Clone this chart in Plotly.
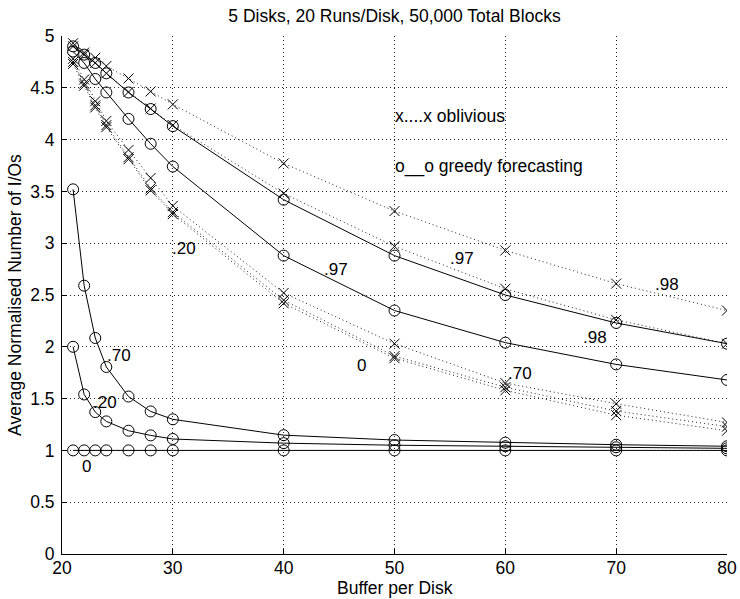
import plotly.graph_objects as go

# ---- data ----
buffer_per_disk = [21, 22, 23, 24, 26, 28, 30, 40, 50, 60, 70, 80]

# greedy forecasting (solid, circles)
greedy_0 = [1.0, 1.0, 1.0, 1.0, 1.0, 1.0, 1.0, 1.0, 1.0, 1.0, 1.0, 1.0]
greedy_20 = [2.00, 1.54, 1.37, 1.28, 1.19, 1.145, 1.11, 1.07, 1.05, 1.04, 1.03, 1.02]
greedy_70 = [3.52, 2.59, 2.085, 1.805, 1.52, 1.376, 1.30, 1.147, 1.10, 1.075, 1.055, 1.04]
greedy_97 = [4.85, 4.74, 4.585, 4.455, 4.20, 3.96, 3.74, 2.88, 2.35, 2.04, 1.83, 1.68]
greedy_98 = [4.90, 4.82, 4.74, 4.64, 4.455, 4.295, 4.13, 3.42, 2.88, 2.50, 2.23, 2.03]

# oblivious (dotted, x markers)
oblivious_0 = [4.78, 4.58, 4.37, 4.18, 3.90, 3.63, 3.36, 2.52, 2.03, 1.65, 1.45, 1.27]
oblivious_20 = [4.75, 4.54, 4.33, 4.14, 3.83, 3.53, 3.30, 2.45, 1.91, 1.61, 1.38, 1.23]
oblivious_70 = [4.73, 4.52, 4.31, 4.12, 3.81, 3.51, 3.28, 2.42, 1.89, 1.58, 1.34, 1.19]
oblivious_97 = [4.90, 4.82, 4.74, 4.64, 4.46, 4.30, 4.14, 3.48, 2.97, 2.56, 2.26, 2.03]
oblivious_98 = [4.93, 4.84, 4.79, 4.71, 4.59, 4.465, 4.34, 3.77, 3.31, 2.93, 2.61, 2.35]

x_ticks = [20, 30, 40, 50, 60, 70, 80]
y_ticks = [0, 0.5, 1, 1.5, 2, 2.5, 3, 3.5, 4, 4.5, 5]
y_tick_labels = ["0", "0.5", "1", "1.5", "2", "2.5", "3", "3.5", "4", "4.5", "5"]

curve_labels = [".20", ".97", ".97", ".98", ".98", "0", ".70", ".70", ".20", "0"]

title_text = "5 Disks, 20 Runs/Disk, 50,000 Total Blocks"
x_title = "Buffer per Disk"
y_title = "Average Normalised Number of I/Os"

# ---- styling / layout ----
FONT = "Liberation Sans, Arial, Helvetica, sans-serif"
DOT = "1px,3px"

fig = go.Figure()

for ys in [oblivious_0, oblivious_20, oblivious_70, oblivious_97, oblivious_98]:
    fig.add_trace(go.Scatter(
        x=buffer_per_disk, y=ys, mode="lines+markers",
        line=dict(color="#222222", width=1, dash=DOT),
        marker=dict(symbol="x-thin-open", size=10, color="black",
                    line=dict(color="black", width=1)),
        showlegend=False, hoverinfo="x+y"))

for ys in [greedy_0, greedy_20, greedy_70, greedy_97, greedy_98]:
    fig.add_trace(go.Scatter(
        x=buffer_per_disk, y=ys, mode="lines+markers",
        line=dict(color="black", width=1),
        marker=dict(symbol="circle-open", size=11, color="black",
                    line=dict(color="black", width=1)),
        showlegend=False, hoverinfo="x+y"))

label_pos = [(31.0, 2.95), (44.73, 2.745), (56.06, 2.855), (74.56, 2.60),
             (68.1, 2.09), (47.0, 1.82), (61.3, 1.74), (25.14, 1.915),
             (23.9, 1.465), (22.17, 0.84)]

annotations = []
for txt, (ax_, ay_) in zip(curve_labels, label_pos):
    annotations.append(dict(x=ax_, y=ay_, xref="x", yref="y", text=txt,
                            showarrow=False, xanchor="center", yanchor="middle",
                            font=dict(family=FONT, size=17, color="black")))

annotations.append(dict(x=49.9, y=4.23, xref="x", yref="y", text="x....x oblivious",
                        showarrow=False, xanchor="left", yanchor="middle",
                        font=dict(family=FONT, size=17.5, color="black")))
annotations.append(dict(x=49.9, y=3.74, xref="x", yref="y", text="o__o greedy forecasting",
                        showarrow=False, xanchor="left", yanchor="middle",
                        font=dict(family=FONT, size=17.5, color="black")))

# x-axis title placed just below the tick labels
annotations.append(dict(x=0.5, y=0, xref="paper", yref="paper", text=x_title,
                        showarrow=False, xanchor="center", yanchor="top",
                        yshift=-23, borderpad=0,
                        font=dict(family=FONT, size=17.5, color="black")))

axis_common = dict(
    showgrid=True, gridcolor="#222222", gridwidth=1, griddash=DOT,
    showline=True, linecolor="black", linewidth=1,
    ticks="inside", ticklen=5, tickcolor="black", tickwidth=1,
    zeroline=False, mirror=False, automargin=False,
    tickfont=dict(family=FONT, size=17.5, color="black"),
)

fig.update_layout(
    width=740, height=599,
    margin=dict(l=62, r=13, t=36, b=45),
    paper_bgcolor="white", plot_bgcolor="white",
    font=dict(family=FONT, color="black"),
    title=dict(text=title_text, x=0.5, xref="paper", xanchor="center",
               y=1 - 16 / 599, yref="container", yanchor="middle",
               font=dict(family=FONT, size=17.5, color="black")),
    xaxis=dict(range=[20, 80], tickvals=x_ticks, ticklabelstandoff=-2,
               **axis_common),
    yaxis=dict(range=[0, 5], tickvals=y_ticks, ticktext=y_tick_labels,
               ticklabelstandoff=3,
               title=dict(text=y_title, standoff=4,
                          font=dict(family=FONT, size=17.5, color="black")),
               **axis_common),
    annotations=annotations,
)

fig.write_html(
    "out.html",
    config={"displayModeBar": False},
    post_script="document.body.style.margin='0';document.body.style.padding='0';",
)
